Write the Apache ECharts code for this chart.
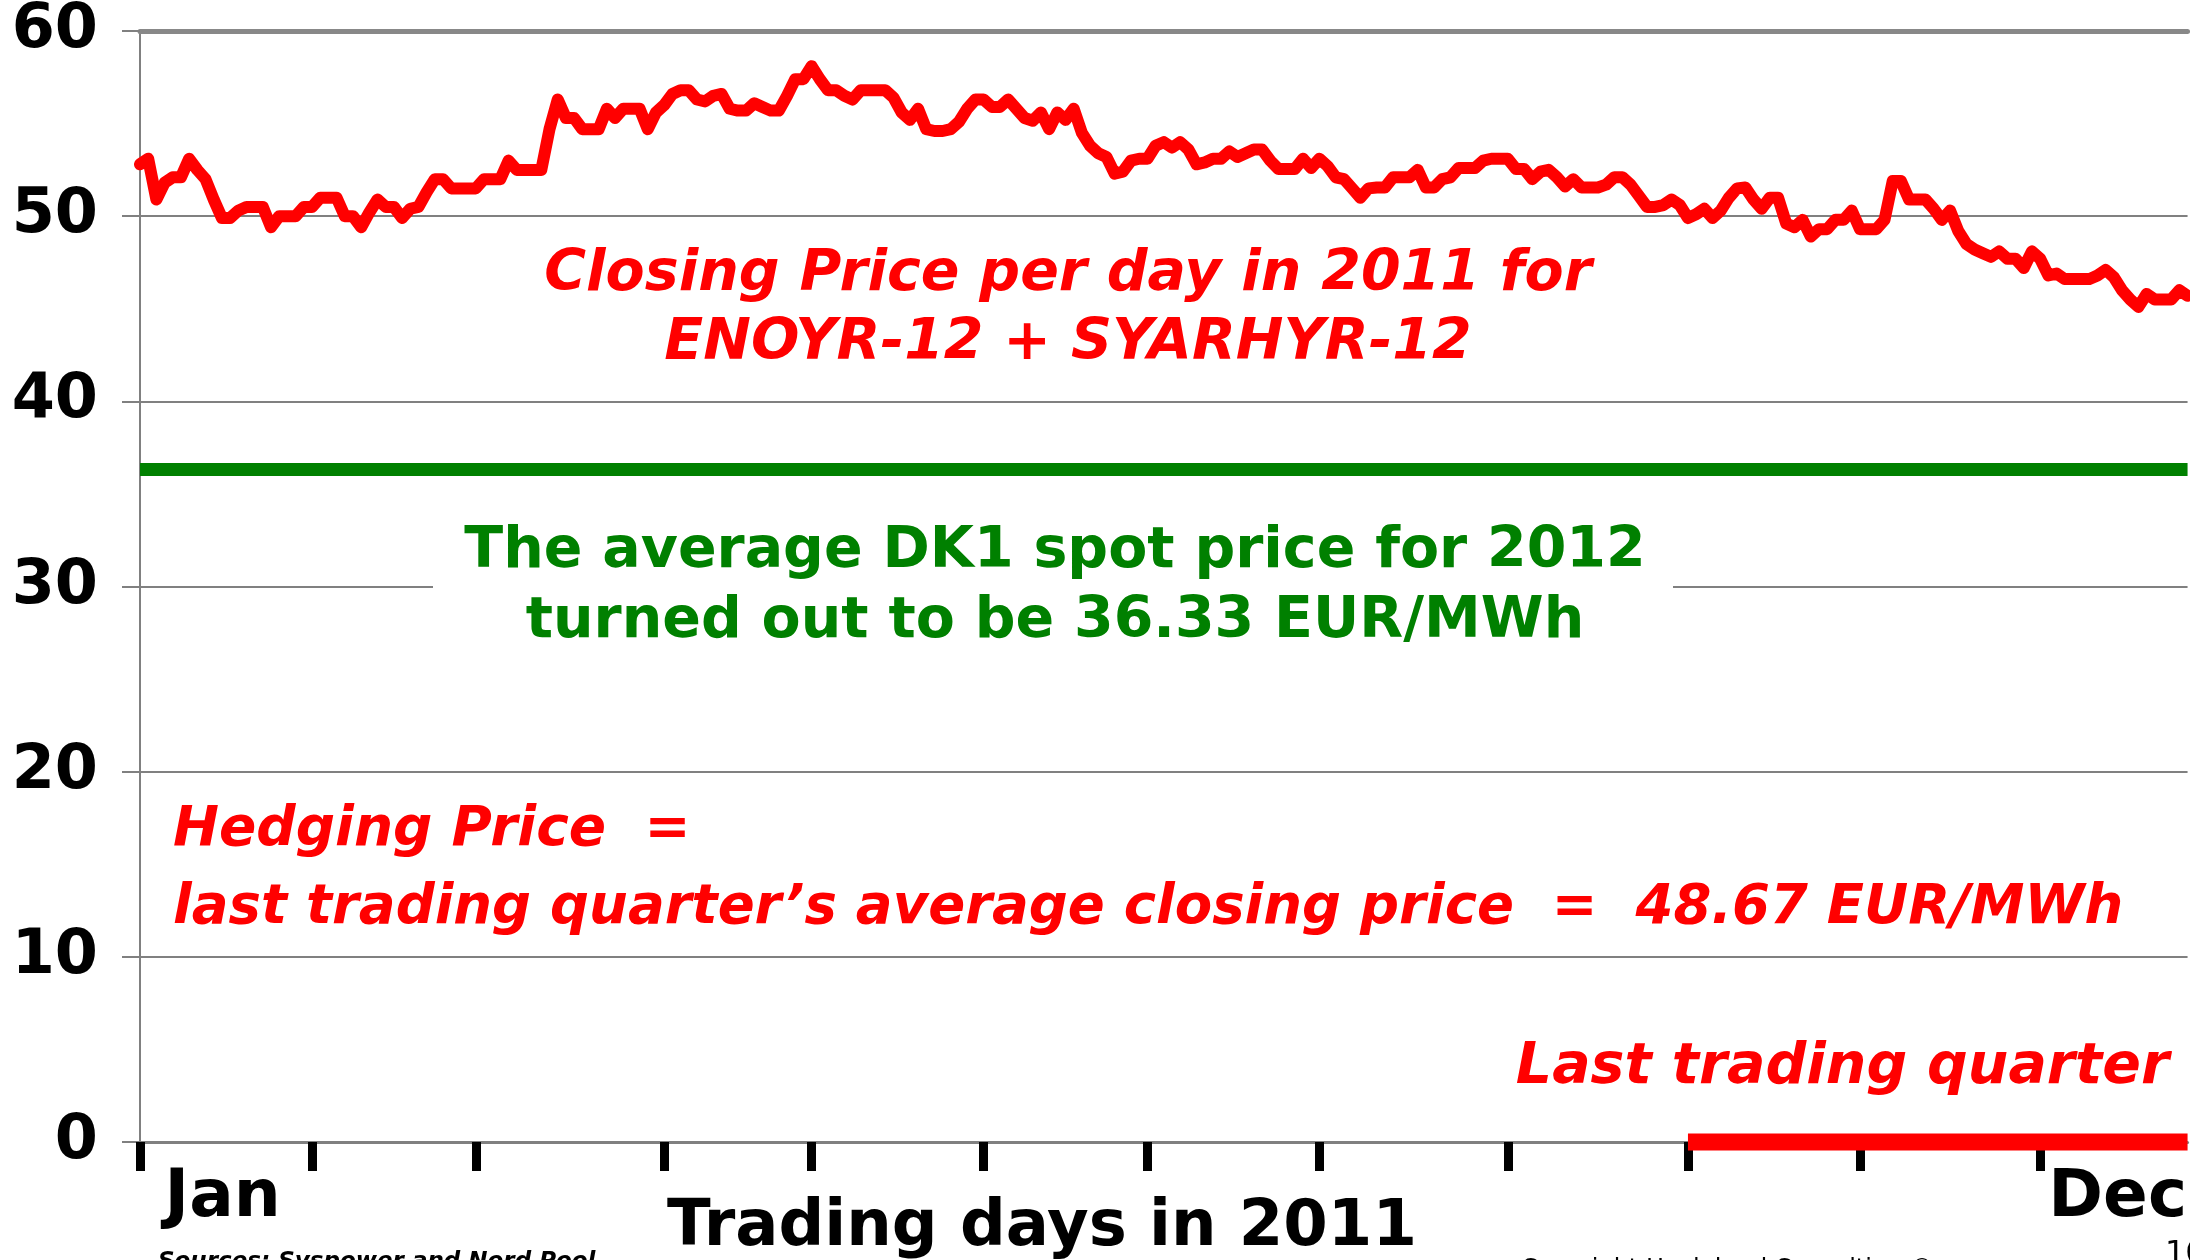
<!DOCTYPE html>
<html>

<head>
    <meta charset="utf-8">
    <script src="https://cdn.jsdelivr.net/npm/echarts@6/dist/echarts.min.js"></script>
    <style>
        html, body { margin: 0; padding: 0; background: #fff; }
    </style>
</head>

<body>
    <div id="main" style="width:2190px;height:1260px;"></div>

    <script>
        // closing price per trading day, EUR/MWh
        var closingPrice = [
            52.8, 53.1, 50.9, 51.8, 52.1, 52.1, 53.1, 52.5, 52.0, 50.9,
            49.9, 49.9, 50.3, 50.5, 50.5, 50.5, 49.4, 50.0, 50.0, 50.0,
            50.5, 50.5, 51.0, 51.0, 51.0, 50.0, 50.0, 49.4, 50.2, 50.9,
            50.5, 50.5, 49.9, 50.4, 50.5, 51.3, 52.0, 52.0, 51.5, 51.5,
            51.5, 51.5, 52.0, 52.0, 52.0, 53.0, 52.5, 52.5, 52.5, 52.5,
            54.7, 56.3, 55.3, 55.3, 54.7, 54.7, 54.7, 55.8, 55.3, 55.8,
            55.8, 55.8, 54.7, 55.6, 56.0, 56.6, 56.8, 56.8, 56.3, 56.2,
            56.5, 56.6, 55.8, 55.7, 55.7, 56.1, 55.9, 55.7, 55.7, 56.5,
            57.4, 57.4, 58.1, 57.4, 56.8, 56.8, 56.5, 56.3, 56.8, 56.8,
            56.8, 56.8, 56.4, 55.6, 55.2, 55.8, 54.7, 54.6, 54.6, 54.7,
            55.1, 55.8, 56.3, 56.3, 55.9, 55.9, 56.3, 55.8, 55.3, 55.15,
            55.6, 54.7, 55.6, 55.2, 55.8, 54.5, 53.8, 53.4, 53.2, 52.3,
            52.4, 53.0, 53.1, 53.1, 53.8, 54.0, 53.7, 54.0, 53.6, 52.8,
            52.9, 53.1, 53.1, 53.5, 53.2, 53.4, 53.6, 53.6, 53.0, 52.55,
            52.55, 52.55, 53.1, 52.6, 53.1, 52.7, 52.1, 52.0, 51.5, 51.0,
            51.5, 51.55, 51.55, 52.1, 52.1, 52.1, 52.5, 51.55, 51.55, 52.0,
            52.1, 52.6, 52.6, 52.6, 53.0, 53.1, 53.1, 53.1, 52.55, 52.55,
            52.0, 52.4, 52.5, 52.1, 51.6, 52.0, 51.55, 51.55, 51.55, 51.7,
            52.1, 52.1, 51.7, 51.1, 50.5, 50.5, 50.6, 50.9, 50.6, 49.9,
            50.1, 50.4, 49.9, 50.3, 51.0, 51.5, 51.55, 50.9, 50.4, 51.0,
            51.0, 49.6, 49.4, 49.8, 48.9, 49.3, 49.3, 49.8, 49.8, 50.3,
            49.3, 49.3, 49.3, 49.8, 51.9, 51.9, 50.9, 50.9, 50.9, 50.4,
            49.8, 50.3, 49.2, 48.5, 48.2, 48.0, 47.8, 48.1, 47.7, 47.7,
            47.2, 48.1, 47.7, 46.8, 46.9, 46.6, 46.6, 46.6, 46.6, 46.8,
            47.1, 46.7, 46.0, 45.5, 45.1, 45.8, 45.5, 45.5, 45.5, 46.0, 45.7
        ];
        // index of the first trading day of each month
        var monthStartDay = [0, 21, 41, 64, 82, 103, 123, 144, 167, 189, 210, 232];
        var monthLabelDay = [3, 233];
        var monthLabelText = ['Jan', 'Dec'];
        var spotPrice2012 = 36.33;
        var lastQuarterStart = 189;

        var tradingDays = closingPrice.map(function (v, i) { return String(i + 1); });
        var lastQuarter = closingPrice.map(function (v, i) { return i >= lastQuarterStart ? 0 : null; });

        var FONT = '"DejaVu Sans", Verdana, sans-serif';
        var myChart = echarts.init(document.getElementById('main'));

        function txt(text, x, y, color, size, opts) {
            opts = opts || {};
            return {
                type: 'text',
                x: x,
                y: y,
                z: 100,
                style: {
                    text: text,
                    fill: color,
                    font: (opts.italic ? 'italic ' : '') + (opts.bold === false ? 'normal ' : 'bold ') + size + 'px ' + FONT,
                    textAlign: opts.align || 'center',
                    textVerticalAlign: 'middle',
                    verticalAlign: 'middle'
                }
            };
        }

        var option = {
            animation: false,
            backgroundColor: '#fff',
            grid: {
                left: 140,
                right: 0,
                top: 30,
                bottom: 118
            },
            xAxis: [
                {
                    type: 'category',
                    data: tradingDays,
                    boundaryGap: false,
                    axisLine: { lineStyle: { color: '#808080', width: 3 } },
                    axisTick: {
                        length: 29,
                        interval: function (i) { return monthStartDay.indexOf(i) >= 0; },
                        lineStyle: { color: '#000', width: 9 }
                    },
                    axisLabel: {
                        interval: function (i) { return monthLabelDay.indexOf(i) >= 0; },
                        formatter: function (v, i) {
                            var k = monthLabelDay.indexOf(i);
                            return k >= 0 ? monthLabelText[k] : '';
                        },
                        align: 'left',
                        margin: 24,
                        color: '#000',
                        fontSize: 66,
                        fontWeight: 'bold',
                        fontFamily: FONT
                    },
                    splitLine: { show: false }
                },
                {
                    type: 'category',
                    position: 'top',
                    data: tradingDays,
                    boundaryGap: false,
                    axisLine: { lineStyle: { color: '#888', width: 5 } },
                    axisTick: { show: false },
                    axisLabel: { show: false }
                }
            ],
            yAxis: {
                type: 'value',
                min: 0,
                max: 60,
                interval: 10,
                axisLine: { show: true, lineStyle: { color: '#808080', width: 2 } },
                axisTick: { show: true, length: 18, lineStyle: { color: '#808080', width: 2 } },
                axisLabel: {
                    margin: 42,
                    color: '#000',
                    fontSize: 62,
                    fontWeight: 'bold',
                    fontFamily: FONT
                },
                splitLine: { lineStyle: { color: '#808080', width: 2 } }
            },
            series: [
                {
                    name: 'Closing price',
                    type: 'line',
                    data: closingPrice,
                    symbol: 'none',
                    z: 5,
                    lineStyle: { color: '#ff0000', width: 12, cap: 'round', join: 'round' },
                    markLine: {
                        silent: true,
                        symbol: 'none',
                        label: { show: false },
                        lineStyle: { color: '#008000', width: 13, type: 'solid' },
                        data: [{ yAxis: spotPrice2012 }]
                    }
                },
                {
                    name: 'Last trading quarter',
                    type: 'line',
                    data: lastQuarter,
                    symbol: 'none',
                    clip: false,
                    z: 6,
                    lineStyle: { color: '#ff0000', width: 17, cap: 'butt' }
                }
            ],
            graphic: {
                elements: [
                    // white box behind the green note
                    { type: 'rect', z: 90, shape: { x: 433, y: 522, width: 1240, height: 130 }, style: { fill: '#fff' } },
                    txt('Closing Price per day in 2011 for', 1068, 275, '#ff0000', 57, { italic: true }),
                    txt('ENOYR-12 + SYARHYR-12', 1068, 344, '#ff0000', 57, { italic: true }),
                    txt('The average DK1 spot price for 2012', 1055, 552, '#008000', 57),
                    txt('turned out to be 36.33 EUR/MWh', 1055, 622, '#008000', 57),
                    txt('Hedging Price  =', 173, 831, '#ff0000', 55, { italic: true, align: 'left' }),
                    txt('last trading quarter\u2019s average closing price  =  48.67 EUR/MWh', 173, 909, '#ff0000', 54.5, { italic: true, align: 'left' }),
                    txt('Last trading quarter', 2169, 1068, '#ff0000', 57, { italic: true, align: 'right' }),
                    txt('Trading days in 2011', 1042, 1228, '#000', 64),
                    txt('Sources: Syspower and Nord Pool', 158, 1262, '#000', 23, { italic: true, align: 'left' }),
                    txt('Copyright Hvelplund Consulting \u00a9', 1521, 1270, '#000', 24, { bold: false, align: 'left' }),
                    txt('10', 2165, 1255, '#000', 32, { bold: false, align: 'left' })
                ]
            }
        };

        myChart.setOption(option);
    </script>
</body>

</html>
